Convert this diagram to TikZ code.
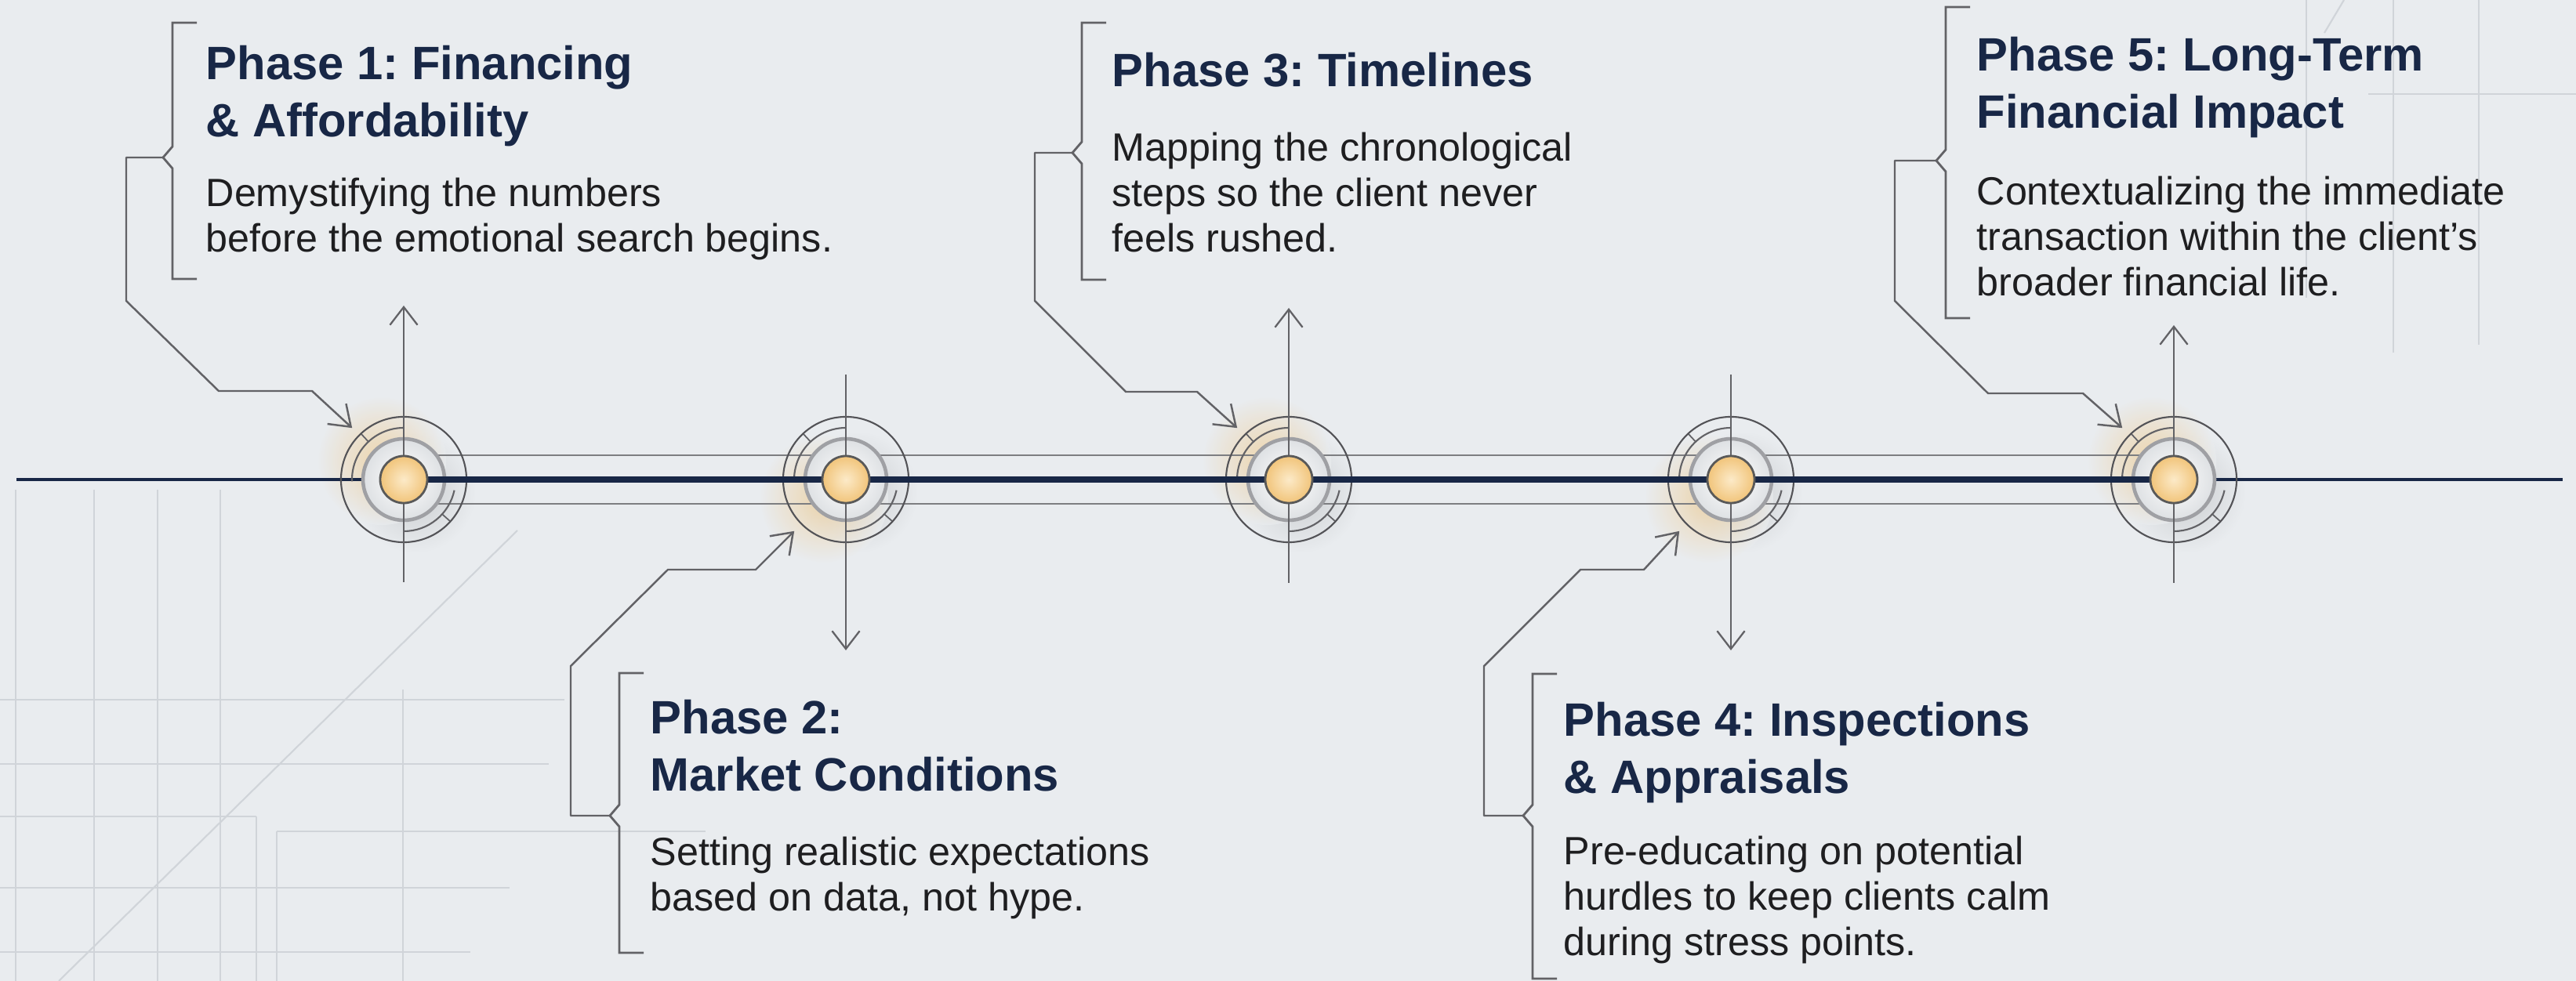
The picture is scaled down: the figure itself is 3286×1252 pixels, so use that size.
\documentclass[tikz,border=0pt]{standalone}
\usepackage{fontspec}
\setmainfont{Liberation Sans}
\frenchspacing
\usetikzlibrary{arrows.meta,calc}

\definecolor{paper}{RGB}{233,236,239}
\definecolor{faintline}{RGB}{208,212,217}
\definecolor{navy}{RGB}{24,39,70}
\definecolor{ink}{RGB}{30,30,32}
\definecolor{wire}{RGB}{98,98,102}
\definecolor{amber}{RGB}{241,196,122}
\definecolor{amberpale}{RGB}{252,234,200}

\tikzset{
  wire/.style={draw=wire, line width=0.7pt},
  faint/.style={draw=faintline, line width=0.6pt},
  link/.style={wire, line join=round, -{Straight Barb[length=7pt,width=10pt]}},
  spoke/.style={wire, line width=0.65pt, -{Straight Barb[length=6.5pt,width=10pt]}},
  brace/.style={wire, line width=0.8pt},
  rail/.style={draw=wire!80!paper, line width=0.6pt},
  ring/.style={circle, draw=wire!85!black, line width=0.6pt, minimum size=1.6cm, inner sep=0pt, outer sep=0.13cm},
  hub/.style={circle, draw=black!65, line width=0.8pt, minimum size=0.6cm, inner sep=0pt, inner color=amberpale, outer color=amber},
  title/.style={anchor=north west, inner sep=0pt, align=left, text=navy, font=\bfseries\fontsize{17}{20.8}\selectfont},
  blurb/.style={anchor=north west, inner sep=0pt, align=left, text=ink, font=\fontsize{14.3}{16.5}\selectfont},
}

\begin{document}
\begin{tikzpicture}[x=0.01cm, y=-0.01cm]
  \useasboundingbox (0,0) rectangle (3286,1252);
  \fill[paper] (0,0) rectangle (3286,1252);

  % faint construction grid, lower left
  \foreach \gx in {20,120,201,281}
    \draw[faint] (\gx,625) -- (\gx,1252);
  \draw[faint] (327,1042) -- (327,1252);
  \draw[faint] (353,1061) -- (353,1252);
  \draw[faint] (514,880) -- (514,1252);
  \draw[faint] (0,893) -- (720,893);
  \draw[faint] (0,975) -- (700,975);
  \draw[faint] (0,1042) -- (327,1042);
  \draw[faint] (353,1061) -- (900,1061);
  \draw[faint] (0,1133) -- (650,1133);
  \draw[faint] (0,1215) -- (600,1215);
  \draw[faint] (75,1252) -- (660,677);
  % and upper right
  \draw[faint] (2942,0) -- (2942,380);
  \draw[faint] (3053,0) -- (3053,450);
  \draw[faint] (3162,0) -- (3162,440);
  \draw[faint] (3021,120) -- (3286,120);
  \draw[faint] (2965,42) -- (2990,0);

  % stations on the line
  \foreach \i/\x in {1/515,2/1079,3/1644,4/2208,5/2773}
    \coordinate (c\i) at (\x,612);

  % shadow below, warm glow on the connector side
  \foreach \i/\s in {1/1,2/-1,3/1,4/-1,5/1} {
    \shade[inner color=black!13!paper, outer color=paper] ($(c\i)+(14,16)$) circle (78);
    \shade[inner color=amber!80!paper, outer color=paper, opacity=.7] ($(c\i)+(-28,-24*\s)$) circle (82);
  }

  \draw[rail] ($(c1)+(0,-31)$) -- ($(c5)+(0,-31)$);
  \draw[rail] ($(c1)+(0,31)$) -- ($(c5)+(0,31)$);
  \coordinate (lineL) at (21,612);
  \coordinate (lineR) at (3269,612);
  \draw[navy, line width=1.2pt] (lineL) -- (lineR);

  \foreach \i in {1,...,5} {
    \begin{scope}[shift={(c\i)}, x=0.01cm, y=0.01cm]
      \shade[inner color=white, outer color=black!5!paper] (0,0) circle (52);
      \draw[wire!55!paper, line width=1.3pt] (0,0) circle (52);
      \draw[wire, line width=0.6pt] (90:66) arc[start angle=90, end angle=182, radius=66];
      \draw[wire, line width=0.6pt] (270:66) arc[start angle=270, end angle=348, radius=66];
      \draw[wire, line width=0.5pt] (133:66) -- (133:80);
      \draw[wire, line width=0.5pt] (-42:66) -- (-42:80);
    \end{scope}
    \node[ring] (r\i) at (c\i) {};
  }

  \draw[navy, line width=2.1pt] (c1) -- (c5);

  % up and down pointers
  \foreach \i/\x/\ya/\yb in {1/515/743/390, 2/1079/478/830, 3/1644/744/393, 4/2208/478/830, 5/2773/744/415} {
    \coordinate (tail\i) at (\x,\ya);
    \coordinate (tip\i) at (\x,\yb);
    \draw[spoke] (tail\i) -- (tip\i);
  }

  \foreach \i in {1,...,5}
    \node[hub] (h\i) at (c\i) {};

  % brackets round the text blocks
  \foreach \i/\bx/\ya/\ym/\yb in {1/220/29/201/356, 2/790/859/1041/1216, 3/1380/29/195/357, 4/1955/860/1041/1249, 5/2482/9/205/406} {
    \coordinate (k\i) at (\bx-12,\ym);
    \draw[brace] (\bx+31,\ya) -- (\bx,\ya) -- (\bx,\ym-14) -- (k\i) -- (\bx,\ym+14) -- (\bx,\yb) -- (\bx+31,\yb);
  }

  \node[title] (t1) at (262,57) {Phase 1: Financing\\\& Affordability};
  \node[blurb] (d1) at (262,226) {Demystifying the numbers\\before the emotional search begins.};

  \node[title] (t2) at (829,892) {Phase 2:\\Market Conditions};
  \node[blurb] (d2) at (829,1067) {Setting realistic expectations\\based on data, not hype.};

  \node[title] (t3) at (1418,66) {Phase 3: Timelines};
  \node[blurb] (d3) at (1418,168) {Mapping the chronological\\steps so the client never\\feels rushed.};

  \node[title] (t4) at (1994,895) {Phase 4: Inspections\\\& Appraisals};
  \node[blurb] (d4) at (1994,1066) {Pre-educating on potential\\hurdles to keep clients calm\\during stress points.};

  \node[title] (t5) at (2521,46) {Phase 5: Long-Term\\Financial Impact};
  \node[blurb] (d5) at (2521,224) {Contextualizing the immediate\\transaction within the client’s\\broader financial life.};

  % leaders from the brackets to the stations
  \draw[link] (k1) -- (161,201) -- (161,384) -- (279,499) -- (398,499) -- (r1.135);
  \draw[link] (k2) -- (728,1041) -- (728,850) -- (852,727) -- (964,727) -- (r2.225);
  \draw[link] (k3) -- (1320,195) -- (1320,384) -- (1436,500) -- (1527,500) -- (r3.135);
  \draw[link] (k4) -- (1893,1041) -- (1893,850) -- (2016,727) -- (2097,727) -- (r4.225);
  \draw[link] (k5) -- (2417,205) -- (2417,384) -- (2536,502) -- (2657,502) -- (r5.135);
\end{tikzpicture}
\end{document}
